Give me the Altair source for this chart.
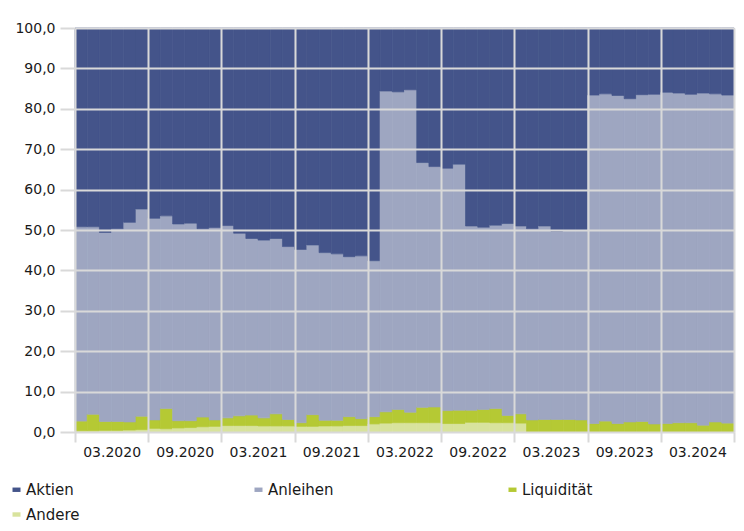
import altair as alt
import pandas as pd

# ---- data (monthly, 01.2020 - 06.2024) ----
section_labels = ["03.2020", "09.2020", "03.2021", "09.2021", "03.2022",
                  "09.2022", "03.2023", "09.2023", "03.2024"]

months = [f"{m:02d}.{y}" for y in range(2020, 2025) for m in range(1, 13)][:54]

# top of the "Anleihen" layer (= Andere + Liquidität + Anleihen), in %
anleihen_top = [50.8, 50.8, 49.4, 50.3, 51.9, 55.2,
                52.9, 53.5, 51.5, 51.7, 50.3, 50.6,
                51.1, 49.2, 47.9, 47.5, 47.9, 45.9,
                45.2, 46.3, 44.4, 44.1, 43.4, 43.6,
                42.4, 84.4, 84.2, 84.7, 66.7, 65.7,
                65.3, 66.3, 51.0, 50.7, 51.2, 51.6,
                51.0, 50.3, 51.0, 49.7, 50.0, 50.0,
                83.4, 83.7, 83.3, 82.5, 83.5, 83.6,
                84.1, 83.9, 83.6, 83.9, 83.7, 83.4]

# top of the "Liquidität" layer (= Andere + Liquidität), in %
liquiditaet_top = [2.7, 4.4, 2.6, 2.6, 2.5, 3.9,
                   3.0, 5.8, 2.8, 2.8, 3.7, 3.0,
                   3.5, 4.0, 4.2, 3.5, 4.5, 3.1,
                   2.3, 4.3, 2.9, 2.9, 3.8, 3.3,
                   3.8, 5.0, 5.6, 4.9, 6.1, 6.2,
                   5.3, 5.4, 5.4, 5.6, 5.8, 4.1,
                   4.5, 3.0, 3.1, 3.1, 3.1, 3.0,
                   2.1, 2.7, 2.1, 2.5, 2.6, 2.0,
                   2.1, 2.3, 2.3, 1.7, 2.5, 2.2]

# "Andere" layer, in %
andere = [0.3, 0.3, 0.4, 0.4, 0.5, 0.6,
          0.9, 0.8, 1.0, 1.1, 1.3, 1.4,
          1.6, 1.6, 1.6, 1.5, 1.5, 1.5,
          1.4, 1.4, 1.5, 1.5, 1.6, 1.6,
          2.0, 2.2, 2.3, 2.3, 2.3, 2.3,
          2.1, 2.1, 2.4, 2.4, 2.3, 2.3,
          2.2, 0.0, 0.0, 0.0, 0.0, 0.0,
          0.0, 0.0, 0.0, 0.0, 0.0, 0.0,
          0.0, 0.0, 0.0, 0.0, 0.0, 0.0]

series = ["Aktien", "Anleihen", "Liquidität", "Andere"]
colors = ["#44548a", "#9ea6c1", "#b5c934", "#d8e39d"]
stack_order = ["Andere", "Liquidität", "Anleihen", "Aktien"]

rows = []
for i in range(len(months)):
    shares = {
        "Andere": andere[i],
        "Liquidität": liquiditaet_top[i] - andere[i],
        "Anleihen": anleihen_top[i] - liquiditaet_top[i],
        "Aktien": 100 - anleihen_top[i],
    }
    for k, name in enumerate(stack_order):
        rows.append({"i": i, "i2": i + 1, "month": months[i], "series": name,
                     "value": round(shares[name], 2), "order": k})
df = pd.DataFrame(rows)

n = len(months)
grid_color = "#d9d9d9"
font = "DejaVu Sans"
label_js = "[" + ",".join(f"'{s}'" for s in section_labels) + "]"
color_scale = alt.Scale(domain=series, range=colors)

chart = alt.Chart(df).transform_stack(
    stack="value", groupby=["i"], sort=[alt.SortField("order", order="ascending")],
    as_=["y0", "y1"]
).mark_bar(strokeWidth=0.7).encode(
    x=alt.X("i:Q",
            scale=alt.Scale(domain=[0, n], nice=False, zero=False),
            axis=alt.Axis(values=list(range(0, n + 1, 6)),
                          labelExpr=f"datum.value < {n} ? {label_js}[datum.value/6] : ''",
                          labelOffset=36.6, labelFlush=False, labelOverlap=False,
                          labelBound=False,
                          grid=True, gridColor=grid_color, gridWidth=2,
                          tickColor=grid_color, tickWidth=2, tickSize=10,
                          labelPadding=3, domain=False, title=None,
                          labelFont=font, labelFontSize=14, labelColor="#1a1a1a",
                          zindex=1)),
    x2="i2:Q",
    y=alt.Y("y0:Q",
            scale=alt.Scale(domain=[0, 100], nice=False),
            axis=alt.Axis(values=list(range(0, 101, 10)),
                          labelExpr="replace(format(datum.value, '.1f'), '.', ',')",
                          grid=True, gridColor=grid_color, gridWidth=2,
                          tickColor=grid_color, tickWidth=2, tickSize=15,
                          labelPadding=5, domain=False, title=None,
                          labelFont=font, labelFontSize=14, labelColor="#1a1a1a",
                          zindex=1)),
    y2="y1:Q",
    color=alt.Color("series:N", scale=color_scale,
                    legend=alt.Legend(title=None, orient="none", legendX=-66, legendY=454,
                                      direction="horizontal",
                                      columns=3, columnPadding=171, rowPadding=9,
                                      symbolType="M-1,-0.55H1V0.55H-1Z", symbolSize=64,
                                      symbolStrokeWidth=0, labelOffset=2,
                                      labelFont=font, labelFontSize=15,
                                      labelColor="#1a1a1a")),
    stroke=alt.Stroke("series:N", scale=color_scale, legend=None),
).properties(
    width=659, height=404,
    padding={"left": 67, "top": 20, "right": 2, "bottom": 91},
    autosize=alt.AutoSizeParams(type="none"),
).configure_view(strokeWidth=0)

chart.save("out.html", embed_options={"renderer": "svg", "actions": False})
